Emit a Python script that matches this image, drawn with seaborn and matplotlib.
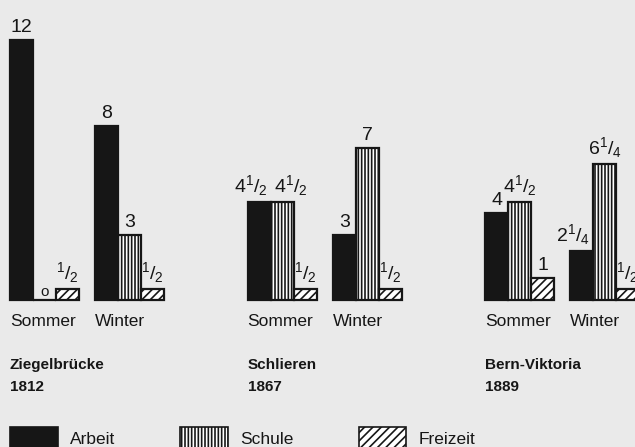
import numpy as np
import pandas as pd
import matplotlib
matplotlib.use("Agg")
import matplotlib.pyplot as plt
import seaborn as sns
from matplotlib.patches import Patch

# ── Data ───────────────────────────────────────────────
places = ["Ziegelbrücke", "Schlieren", "Bern-Viktoria"]
years = ["1812", "1867", "1889"]
seasons = ["Sommer", "Winter"]
kinds = ["Arbeit", "Schule", "Freizeit"]

# hours per day as [Sommer, Winter] for each place
arbeit = [[12, 8], [4.5, 3], [4, 2.25]]
schule = [[0, 3], [4.5, 7], [4.5, 6.25]]
freizeit = [[0.5, 0.5], [0.5, 0.5], [1, 0.5]]

# ── Layout (units = one bar width) ─────────────────────
GROUP_STEP = 10.33
SEASON_STEP = 3.7
BAR_PX = 23.0          # pixels per bar width
FIRST_PX = 21.5        # pixel centre of the first bar
BASE_PX = 300.0        # baseline, pixels from the top
UNIT_PX = 21.7         # pixels per hour
W, H = 635, 447

BG = "#eaeaea"
INK = "#161616"
HATCHES = {"Arbeit": "", "Schule": "|||||", "Freizeit": "////"}
COLORS = {"Arbeit": INK, "Schule": "white", "Freizeit": "white"}

rows = []
for g, place in enumerate(places):
    for s, season in enumerate(seasons):
        for k, (kind, vals) in enumerate(zip(kinds, [arbeit, schule, freizeit])):
            rows.append(dict(place=place, season=season, kind=kind,
                             pos=round(g * GROUP_STEP + s * SEASON_STEP + k, 3),
                             value=vals[g][s]))
df = pd.DataFrame(rows)


def has_frac(v):
    return round(v - int(v), 2) != 0


def fmt(v):
    # 4.5 -> 4 with a small 1/2 after it
    whole = int(v)
    f = round(v - whole, 2)
    if f == 0:
        return str(whole)
    num, den = {0.25: ("1", "4"), 0.5: ("1", "2"), 0.75: ("3", "4")}[f]
    head = "" if whole == 0 else str(whole)
    return rf"${head}^{{{num}}}/_{{{den}}}$"


sns.set_style("white")
plt.rcParams["font.family"] = ["Liberation Sans", "DejaVu Sans"]
plt.rcParams["mathtext.fontset"] = "custom"
plt.rcParams["mathtext.rm"] = "Liberation Sans"
plt.rcParams["mathtext.it"] = "Liberation Sans"
plt.rcParams["mathtext.bf"] = "Liberation Sans:bold"
plt.rcParams["hatch.linewidth"] = 1.2
plt.rcParams["hatch.color"] = INK

fig = plt.figure(figsize=(W / 100, H / 100), dpi=100, facecolor=BG)
ax = fig.add_axes([0, 0, 1, 1], facecolor=BG)

sns.barplot(data=df, x="pos", y="value", hue="kind", hue_order=kinds,
            palette=COLORS, native_scale=True, dodge=False, width=1,
            saturation=1, errorbar=None, edgecolor=INK, linewidth=1.6,
            legend=False, ax=ax)

for container, kind in zip(ax.containers, kinds):
    for bar in container:
        bar.set_hatch(HATCHES[kind])

ax.set_xlim(-FIRST_PX / BAR_PX, (W - FIRST_PX) / BAR_PX)
ax.set_ylim(-(H - BASE_PX) / UNIT_PX, BASE_PX / UNIT_PX)
ax.axis("off")

# value labels; wide fraction labels on the black bar lean left,
# and the striped neighbour at the same height leans right
for g in range(len(places)):
    for s in range(len(seasons)):
        a, sc = arbeit[g][s], schule[g][s]
        for k, v in enumerate([a, sc, freizeit[g][s]]):
            pos = g * GROUP_STEP + s * SEASON_STEP + k
            x, ha, dx = pos, "center", 0
            if k == 0 and has_frac(v):
                x, ha, dx = pos + 0.5, "right", -3
            elif k == 1 and has_frac(a) and has_frac(v) and abs(a - v) < 1:
                x, ha, dx = pos - 0.5, "left", 3
            small = v == 0
            ax.annotate("o" if small else fmt(v), xy=(x, v),
                        xytext=(dx, 1 if small else 4), textcoords="offset pixels",
                        ha=ha, va="bottom", fontsize=11 if small else 14,
                        color=INK)

# season and place labels
for g, place in enumerate(places):
    left = g * GROUP_STEP - 0.5
    for s, season in enumerate(seasons):
        ax.annotate(season, xy=(left + s * SEASON_STEP, 0), xytext=(0, -26),
                    textcoords="offset pixels", ha="left", va="baseline",
                    fontsize=12.5, color=INK)
    ax.annotate(place, xy=(left, 0), xytext=(0, -69), textcoords="offset pixels",
                ha="left", va="baseline", fontsize=11, fontweight="bold", color=INK)
    ax.annotate(years[g], xy=(left, 0), xytext=(0, -91), textcoords="offset pixels",
                ha="left", va="baseline", fontsize=11, fontweight="bold", color=INK)

# legend
handles = [Patch(facecolor=COLORS[k], edgecolor=INK, hatch=HATCHES[k], linewidth=1.2)
           for k in kinds]
fig.legend(handles, kinds, loc="center left", bbox_to_anchor=(10 / W, 1 - 438 / H),
           ncol=3, frameon=False, fontsize=12.5, handlelength=2.75,
           handleheight=1.5, handletextpad=0.7, columnspacing=3.75,
           borderpad=0, borderaxespad=0, labelcolor=INK)

fig.savefig("out.png", dpi=100, facecolor=BG)
